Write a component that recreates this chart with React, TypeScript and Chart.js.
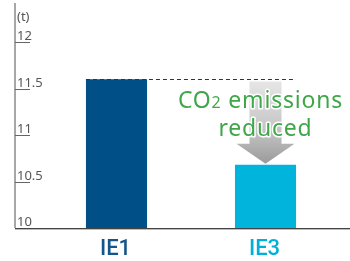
import React, { useEffect, useRef } from "react";
import { Chart, registerables } from "chart.js";

Chart.register(...registerables);

const categories = ["IE1", "IE3"];
const values = [11.6, 10.68];
const barColors = ["#004f86", "#00b4dc"];
const labelColors = ["#14568a", "#00b0d8"];
const yTicks = [10, 10.5, 11, 11.5, 12];
const yTickLabels = ["10", "10.5", "11", "11.5", "12"];
const unitLabel = "(t)";
const noteLine1a = "CO";
const noteSub = "2";
const noteLine1b = " emissions";
const noteLine2 = "reduced";

const FONT = "'Noto Sans', 'Open Sans', sans-serif";

const overlay = {
  id: "overlay",
  afterDatasetsDraw(chart: any) {
    const ctx = chart.ctx;
    const x = chart.scales.x;
    const y = chart.scales.y;
    const area = chart.chartArea;
    const axisX = 15;
    ctx.save();

    // y axis line
    ctx.strokeStyle = "#8a8a8a";
    ctx.lineWidth = 1.5;
    ctx.beginPath();
    ctx.moveTo(axisX, 3);
    ctx.lineTo(axisX, area.bottom);
    ctx.stroke();

    // ticks + labels
    ctx.font = `13px ${FONT}`;
    ctx.fillStyle = "#555";
    ctx.textAlign = "left";
    ctx.textBaseline = "alphabetic";
    yTicks.forEach((v, i) => {
      const py = Math.round(y.getPixelForValue(v)) + 0.5;
      if (v !== yTicks[0]) {
        ctx.strokeStyle = "#666";
        ctx.lineWidth = 1;
        ctx.beginPath();
        ctx.moveTo(axisX, py);
        ctx.lineTo(axisX + 15, py);
        ctx.stroke();
      }
      ctx.fillText(yTickLabels[i], axisX + 2, py - 3);
    });
    ctx.fillText(unitLabel, axisX + 2, 21);

    // x axis line
    ctx.fillStyle = "#444";
    ctx.fillRect(axisX, area.bottom, 350 - axisX, 1);
    ctx.fillStyle = "#bbb";
    ctx.fillRect(axisX, area.bottom + 1, 350 - axisX, 1);

    // x labels
    ctx.font = `500 22px Roboto, ${FONT}`;
    ctx.textAlign = "center";
    ctx.textBaseline = "alphabetic";
    categories.forEach((c, i) => {
      ctx.fillStyle = labelColors[i];
      ctx.fillText(c, x.getPixelForValue(i) - 1, area.bottom + 27);
    });

    // dashed reference line
    const meta = chart.getDatasetMeta(0);
    const b0 = meta.data[0];
    const b1 = meta.data[1];
    const yTop = Math.round(y.getPixelForValue(values[0])) + 0.5;
    ctx.strokeStyle = "#333";
    ctx.lineWidth = 1;
    ctx.setLineDash([4, 3]);
    ctx.beginPath();
    ctx.moveTo(b0.x - b0.width / 2, yTop);
    ctx.lineTo(b1.x + b1.width / 2, yTop);
    ctx.stroke();
    ctx.setLineDash([]);

    // arrow
    const cx = b1.x;
    const yLow = y.getPixelForValue(values[1]);
    const aTop = yTop + 2;
    const tip = yLow - 1;
    const headH = 20;
    const shaftW = 16;
    const headW = 29;
    const grad = ctx.createLinearGradient(0, aTop, 0, tip);
    grad.addColorStop(0, "#e6e6e6");
    grad.addColorStop(0.6, "#c4c4c4");
    grad.addColorStop(1, "#9a9a9a");
    ctx.fillStyle = grad;
    ctx.beginPath();
    ctx.moveTo(cx - shaftW, aTop);
    ctx.lineTo(cx + shaftW, aTop);
    ctx.lineTo(cx + shaftW, tip - headH);
    ctx.lineTo(cx + headW, tip - headH);
    ctx.lineTo(cx, tip);
    ctx.lineTo(cx - headW, tip - headH);
    ctx.lineTo(cx - shaftW, tip - headH);
    ctx.closePath();
    ctx.fill();

    // note text
    const big = `23px ${FONT}`;
    const small = `16px ${FONT}`;
    ctx.letterSpacing = "0.8px";
    ctx.font = big;
    const wA = ctx.measureText(noteLine1a).width;
    const wB = ctx.measureText(noteLine1b).width;
    ctx.font = small;
    const wS = ctx.measureText(noteSub).width;
    const total = wA + wS + wB;
    const tcx = cx - 5;
    const base1 = yTop + 28;
    const base2 = yTop + 56;
    let sx = tcx - total / 2;
    ctx.textAlign = "left";
    ctx.lineJoin = "round";
    ctx.strokeStyle = "#ffffff";
    ctx.lineWidth = 3;
    ctx.fillStyle = "#3fa74a";
    const put = (t: string, f: string, px: number, py: number) => {
      ctx.font = f;
      ctx.strokeText(t, px, py);
      ctx.fillText(t, px, py);
    };
    put(noteLine1a, big, sx, base1);
    sx += wA;
    put(noteSub, small, sx, base1);
    sx += wS;
    put(noteLine1b, big, sx, base1);
    ctx.font = big;
    ctx.textAlign = "center";
    ctx.strokeText(noteLine2, cx, base2);
    ctx.fillText(noteLine2, cx, base2);

    ctx.restore();
  },
};

export default function App() {
  const ref = useRef<HTMLCanvasElement | null>(null);
  useEffect(() => {
    document.body.style.margin = "0";
    const chart = new Chart(ref.current as HTMLCanvasElement, {
      type: "bar",
      data: {
        labels: categories,
        datasets: [
          {
            data: values,
            backgroundColor: barColors,
            borderWidth: 0,
            categoryPercentage: 1,
            barPercentage: 0.41,
          },
        ],
      },
      options: {
        responsive: false,
        animation: false,
        layout: { padding: { left: 42, right: 10, top: 42, bottom: 33 } },
        plugins: { legend: { display: false }, tooltip: { enabled: false } },
        scales: {
          x: { display: false },
          y: { display: false, min: 10, max: 12 },
        },
      },
      plugins: [overlay],
    });
    return () => chart.destroy();
  }, []);
  return (
    <div style={{ width: 350, height: 261 }}>
      <canvas ref={ref} width={350} height={261} style={{ display: "block" }} />
    </div>
  );
}
